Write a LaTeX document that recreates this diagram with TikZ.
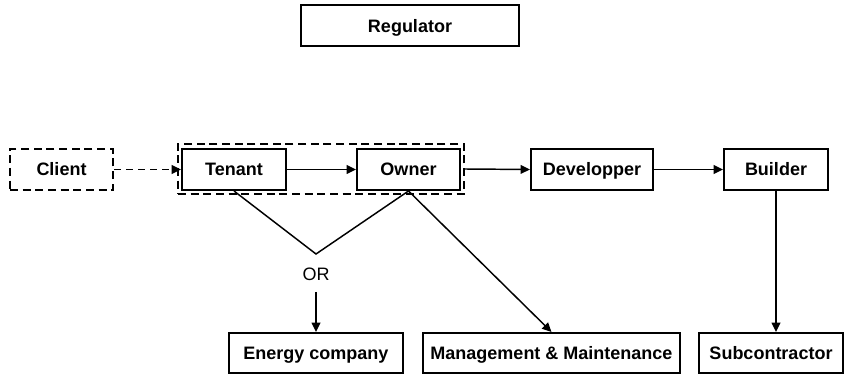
\documentclass[tikz,border=0pt]{standalone}
\usepackage{fontspec}
\setmainfont{Liberation Sans}
\usetikzlibrary{arrows.meta}

\begin{document}
\begin{tikzpicture}[x=0.75pt,y=0.75pt,yscale=-1,xscale=1,
  box/.style={draw, line width=1.5pt, minimum height=30.75pt, inner sep=0pt,
    text height=9.6pt, text depth=0pt,
    font=\fontsize{13.5}{16}\selectfont\bfseries},
  dashbox/.style={box, dash pattern={on 6pt off 3.5pt}},
  link/.style={line width=1.1pt, -{Triangle[length=7pt,width=6.5pt]}},
  plain/.style={line width=1.1pt}]
\useasboundingbox (0,0) rectangle (844,374);

% Text Node
\draw (410,26) node [box, minimum width=163.5pt] (regulator) {Regulator};

%Shape: Dashed group
\draw (321,169) node [draw, line width=1.5pt, dash pattern={on 6pt off 3.5pt},
  minimum width=214.5pt, minimum height=37.5pt, inner sep=0pt] (group) {};

% Text Node
\draw (61.5,169.5) node [dashbox, minimum width=77.25pt] (client) {Client};
% Text Node
\draw (234,169.5) node [box, minimum width=78pt] (tenant) {Tenant};
% Text Node
\draw (408.5,169.5) node [box, minimum width=77.25pt] (owner) {Owner};
% Text Node
\draw (592,169.5) node [box, minimum width=91.5pt] (developper) {Developper};
% Text Node
\draw (776,169.5) node [box, minimum width=78pt] (builder) {Builder};

% Text Node
\draw (316,353) node [box, minimum width=130.5pt, minimum height=30pt] (energy) {Energy company};
% Text Node
\draw (551.5,353) node [box, minimum width=192.75pt, minimum height=30pt] (mgmt) {Management \& Maintenance};
% Text Node
\draw (771,353) node [box, minimum width=108pt, minimum height=30pt] (sub) {Subcontractor};

% Text Node
\draw (316,274) node [font=\fontsize{13.5}{16}\selectfont] (or) {OR};
\coordinate (vtip) at (316,254);
\coordinate (orfoot) at (316,292);

%Straight Lines
\draw [link, line width=1.4pt, dash pattern={on 5.5pt off 3.5pt}] (client.east) -- (tenant.west);
\draw [link] (tenant.east) -- (owner.west);
\draw [link] (group.east) -- (developper.west);
\draw [link] (developper.east) -- (builder.west);

%Straight Lines
\draw [plain] (tenant.south) -- (vtip) -- (owner.south);
\draw [link] (orfoot) -- (energy.north);
\draw [link] (owner.south) -- (mgmt.north);
\draw [link] (builder.south) -- (builder.south |- sub.north);

\end{tikzpicture}
\end{document}
